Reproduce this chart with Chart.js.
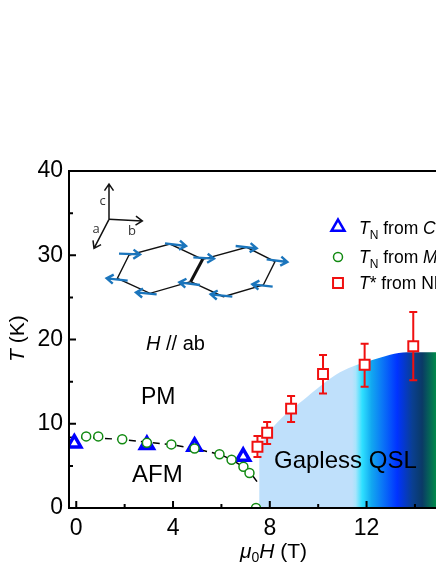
<!DOCTYPE html>
<html>
<head>
<meta charset="utf-8">
<script src="https://cdn.jsdelivr.net/npm/chart.js@4/dist/chart.umd.js"></script>
<style>
  html, body { margin: 0; padding: 0; background: #fff; overflow: hidden; }
  canvas { display: block; }
</style>
</head>
<body>
<canvas id="chart" width="436" height="564"></canvas>
<script>
// values
const cpField = [-0.08, 2.92, 4.89, 6.9];
const cpTemp = [7.7, 7.5, 7.3, 6.1];

const magField = [0.41, 0.91, 1.9, 2.92, 3.93, 4.89, 5.92, 6.42, 6.91, 7.16, 7.43];
const magTemp = [8.5, 8.5, 8.15, 7.75, 7.55, 7.05, 6.37, 5.73, 4.9, 4.15, 0];

const nmrField = [7.49, 7.89, 8.88, 10.2, 11.92, 13.93];
const nmrTemp = [7.27, 8.93, 11.8, 15.9, 17.0, 19.2];
const nmrLow = [6.05, 7.6, 10.2, 13.6, 14.4, 15.15];
const nmrHigh = [8.54, 10.2, 13.3, 18.15, 19.5, 23.25];

const guideField = [-0.3, 1, 2, 3, 4, 5, 6, 6.5, 7, 7.3, 7.48];
const guideTemp = [8.4, 8.3, 8.1, 7.8, 7.5, 7.0, 6.3, 5.6, 4.7, 3.8, 3.1];

const qslField = [7.56, 8.14, 9.55, 10.9, 12.27, 13.68, 14.87];
const qslTemp = [7.2, 9.6, 13.2, 16.1, 17.6, 18.5, 18.5];

const xTicks = [0, 2, 4, 6, 8, 10, 12, 14];
const xLabelled = [0, 4, 8, 12];
const yTicks = [0, 5, 10, 15, 20, 25, 30, 35, 40];
const yLabelled = [0, 10, 20, 30, 40];

// field value -> colour of the QSL region
const qslStops = [
    [11.4, "#bfe0fb"], [11.55, "#a8e4fc"], [11.82, "#2fe0ff"], [12.2, "#12a8f0"],
    [13.27, "#0033ff"], [13.9, "#0a3f90"], [14.3, "#0a3a66"], [14.87, "#008a4a"]
];

const pairs = (xs, ys) => xs.map((x, i) => ({x: x, y: ys[i]}));
const FONT = '"Liberation Sans", Arial, sans-serif';

function drawRuns(c, x, y, runs) {
    for (const r of runs) {
        c.font = `${r.style || ""} ${r.size}px ${FONT}`;
        c.fillText(r.text, x, y + (r.dy || 0));
        x += c.measureText(r.text).width;
    }
}

function arrow(c, x1, y1, x2, y2, colour, width, head) {
    const a = Math.atan2(y2 - y1, x2 - x1);
    c.strokeStyle = colour;
    c.lineWidth = width;
    c.beginPath();
    c.moveTo(x1, y1);
    c.lineTo(x2, y2);
    c.moveTo(x2 - head * Math.cos(a - 0.6), y2 - head * Math.sin(a - 0.6));
    c.lineTo(x2, y2);
    c.lineTo(x2 - head * Math.cos(a + 0.6), y2 - head * Math.sin(a + 0.6));
    c.stroke();
}

function drawInset(c) {
    // zoomed crop coordinates -> page
    const px = v => 60 + v / 3;
    const py = v => 160 + v / 3;
    const line = (pts, w) => {
        c.strokeStyle = "#111";
        c.lineWidth = w;
        c.beginPath();
        pts.forEach((p, i) => i ? c.lineTo(px(p[0]), py(p[1])) : c.moveTo(px(p[0]), py(p[1])));
        c.stroke();
    };
    line([[428, 298], [330, 252], [207, 285], [172, 355], [270, 400], [392, 365]], 1.4);
    line([[428, 298], [560, 262], [645, 305], [610, 375], [490, 410], [392, 365]], 1.4);
    line([[428, 298], [392, 365]], 3);

    const spins = [
        [177, 281, 240, 283], [315, 250, 378, 258], [400, 292, 462, 296], [527, 258, 590, 265], [620, 298, 682, 306],
        [203, 362, 140, 355], [290, 403, 228, 397], [420, 375, 358, 367], [517, 410, 452, 403], [638, 380, 577, 373]
    ];
    for (const s of spins) {
        arrow(c, px(s[0]), py(s[1]), px(s[2]), py(s[3]), "#1b75bc", 2.4, 8);
    }

    arrow(c, px(147), py(178), px(147), py(72), "#111", 1.5, 8);
    arrow(c, px(147), py(178), px(247), py(183), "#111", 1.5, 8);
    arrow(c, px(147), py(178), px(102), py(265), "#111", 1.5, 8);

    c.fillStyle = "#333";
    c.font = `13px "Open Sans", ${FONT}`;
    c.textAlign = "center";
    c.fillText("c", px(128), py(134));
    c.fillText("a", px(108), py(220));
    c.fillText("b", px(216), py(226));
    c.textAlign = "left";
}

function drawLegend(c) {
    const markers = [
        ["triangle", 7.5, "#0000ff", 2.5, 227],
        ["circle", 4.5, "#128a12", 1.5, 257],
        ["rect", 7, "#f01010", 2, 283]
    ];
    for (const m of markers) {
        c.strokeStyle = m[2];
        c.fillStyle = "#fff";
        c.lineWidth = m[3];
        Chart.helpers.drawPoint(c, {pointStyle: m[0], radius: m[1], borderWidth: m[3]}, 338, m[4]);
    }
    c.fillStyle = "#000";
    drawRuns(c, 359, 234, [
        {text: "T", style: "italic", size: 17.5}, {text: "N", size: 12, dy: 5},
        {text: " from ", size: 17.5}, {text: "C", style: "italic", size: 17.5}, {text: "p", size: 12, dy: 5}
    ]);
    drawRuns(c, 359, 263, [
        {text: "T", style: "italic", size: 17.5}, {text: "N", size: 12, dy: 5},
        {text: " from ", size: 17.5}, {text: "M", style: "italic", size: 17.5}
    ]);
    drawRuns(c, 359, 289, [
        {text: "T", style: "italic", size: 17.5}, {text: "* from NMR", size: 17.5}
    ]);
}

const phasePlot = {
    id: "phasePlot",
    afterDatasetDraw(chart, args) {
        // error bars sit above the QSL fill, below the markers
        if (chart.data.datasets[args.index].label !== "QSL") return;
        const c = chart.ctx, x = chart.scales.x, y = chart.scales.y;
        c.save();
        c.strokeStyle = "#f01010";
        c.lineWidth = 2;
        c.beginPath();
        nmrField.forEach((f, i) => {
            const px = x.getPixelForValue(f);
            const lo = y.getPixelForValue(nmrLow[i]);
            const hi = y.getPixelForValue(nmrHigh[i]);
            c.moveTo(px, lo);
            c.lineTo(px, hi);
            c.moveTo(px - 4, lo);
            c.lineTo(px + 4, lo);
            c.moveTo(px - 4, hi);
            c.lineTo(px + 4, hi);
        });
        c.stroke();
        c.restore();
    },
    afterDraw(chart) {
        const c = chart.ctx, a = chart.chartArea, x = chart.scales.x, y = chart.scales.y;
        c.save();

        // frame and inward ticks
        c.strokeStyle = "#000";
        c.lineWidth = 2;
        c.beginPath();
        c.moveTo(a.right, a.top);
        c.lineTo(a.left, a.top);
        c.lineTo(a.left, a.bottom);
        c.lineTo(a.right, a.bottom);
        for (const t of xTicks) {
            const p = x.getPixelForValue(t);
            c.moveTo(p, a.bottom);
            c.lineTo(p, a.bottom - (xLabelled.includes(t) ? 7 : 4));
        }
        for (const t of yTicks) {
            const p = y.getPixelForValue(t);
            c.moveTo(a.left, p);
            c.lineTo(a.left + (yLabelled.includes(t) ? 7 : 4), p);
        }
        c.stroke();

        drawInset(c);
        drawLegend(c);

        // region labels
        c.fillStyle = "#000";
        drawRuns(c, 146, 350, [{text: "H", style: "italic", size: 20}, {text: " // ab", size: 20}]);
        drawRuns(c, 141, 404, [{text: "PM", size: 23}]);
        drawRuns(c, 132, 482, [{text: "AFM", size: 24}]);
        drawRuns(c, 274, 468, [{text: "Gapless QSL", size: 24}]);

        // axis titles, mixed styles so not the library's title
        drawRuns(c, 240, 558, [
            {text: "\u03bc", style: "italic", size: 21}, {text: "0", size: 14, dy: 4},
            {text: "H", style: "italic", size: 21}, {text: " (T)", size: 21}
        ]);
        c.translate(24, 362);
        c.rotate(-Math.PI / 2);
        drawRuns(c, 0, 0, [{text: "T", style: "italic", size: 21}, {text: " (K)", size: 21}]);
        c.restore();
    }
};

function qslFill(ctx) {
    const chart = ctx.chart;
    if (!chart.chartArea) return "#bfe0fb";
    const x = chart.scales.x;
    const g = chart.ctx.createLinearGradient(x.left, 0, x.right, 0);
    g.addColorStop(0, qslStops[0][1]);
    for (const s of qslStops) {
        const at = (x.getPixelForValue(s[0]) - x.left) / (x.right - x.left);
        g.addColorStop(Math.min(1, at), s[1]);
    }
    return g;
}

new Chart(document.getElementById("chart"), {
    type: "scatter",
    data: {
        datasets: [
            {label: "TN from Cp", data: pairs(cpField, cpTemp), order: 2, pointStyle: "triangle", pointRadius: 7.5,
                borderColor: "#0000ff", backgroundColor: "#fff", borderWidth: 3.5},
            {label: "TN from M", data: pairs(magField, magTemp), order: 1, pointStyle: "circle", pointRadius: 4.5,
                borderColor: "#128a12", backgroundColor: "#fff", borderWidth: 1.5},
            {label: "T* from NMR", data: pairs(nmrField, nmrTemp), order: 0, pointStyle: "rect", pointRadius: 7,
                borderColor: "#f01010", backgroundColor: "#fff", borderWidth: 2},
            {label: "guide", data: pairs(guideField, guideTemp), order: 3, showLine: true, pointRadius: 0,
                borderColor: "#000", borderWidth: 1.5, borderDash: [7, 5]},
            {label: "QSL", data: pairs(qslField, qslTemp), order: 4, showLine: true, pointRadius: 0,
                borderWidth: 0, borderColor: "transparent", cubicInterpolationMode: "monotone",
                fill: "origin", backgroundColor: qslFill}
        ]
    },
    options: {
        responsive: false,
        animation: false,
        events: [],
        layout: {autoPadding: false, padding: {top: 171, left: 0, right: 0, bottom: 0}},
        plugins: {legend: {display: false}, tooltip: {enabled: false}, title: {display: false}},
        scales: {
            x: {
                type: "linear", min: -0.3, max: 14.87,
                grid: {display: false, drawTicks: false}, border: {display: false},
                afterBuildTicks: s => { s.ticks = xTicks.map(v => ({value: v})); },
                afterFit: s => { s.height = 56; },
                ticks: {
                    autoSkip: false, maxRotation: 0, padding: 7, color: "#000",
                    font: {family: FONT, size: 23},
                    callback: v => xLabelled.includes(v) ? String(v) : ""
                }
            },
            y: {
                type: "linear", min: 0, max: 40,
                grid: {display: false, drawTicks: false}, border: {display: false},
                afterBuildTicks: s => { s.ticks = yTicks.map(v => ({value: v})); },
                afterFit: s => { s.width = 69; },
                ticks: {
                    autoSkip: false, padding: 6, color: "#000",
                    font: {family: FONT, size: 23},
                    callback: v => yLabelled.includes(v) ? String(v) : ""
                }
            }
        }
    },
    plugins: [phasePlot]
});
</script>
</body>
</html>
